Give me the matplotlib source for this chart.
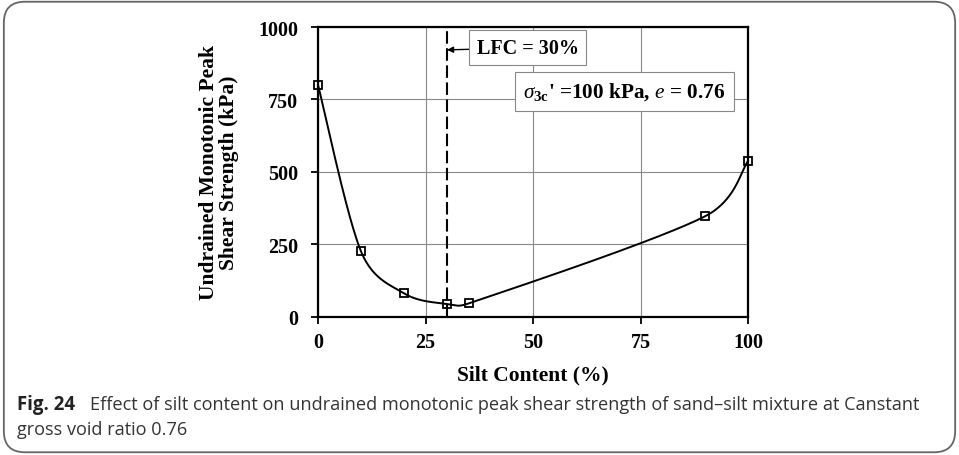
import numpy as np
from matplotlib import pyplot as plt
from matplotlib.patches import FancyBboxPatch

silt = [0, 10, 20, 30, 35, 90, 100]
strength = [800, 225, 80, 43, 45, 346, 537]
lfc = 30
x_ticks = [0, 25, 50, 75, 100]
y_ticks = [0, 250, 500, 750, 1000]


def smooth(ax, xs, ys, n=60):
    # Excel-like smoothed line: bezier segments, control arms limited
    # to half the segment length, computed in display space
    p = ax.transData.transform(np.column_stack([xs, ys]).astype(float))
    out = []
    for i in range(len(p) - 1):
        p0 = p[max(i - 1, 0)]
        p1 = p[i]
        p2 = p[i + 1]
        p3 = p[min(i + 2, len(p) - 1)]
        d12 = np.hypot(*(p2 - p1))
        d02 = np.hypot(*(p2 - p0))
        d13 = np.hypot(*(p3 - p1))
        f1 = min(1 / 6, d12 / (2 * d02)) if d02 > 0 else 0
        f2 = min(1 / 6, d12 / (2 * d13)) if d13 > 0 else 0
        c1 = p1 + (p2 - p0) * f1
        c2 = p2 - (p3 - p1) * f2
        t = np.linspace(0, 1, n)[:, None]
        seg = ((1 - t) ** 3 * p1 + 3 * (1 - t) ** 2 * t * c1
               + 3 * (1 - t) * t ** 2 * c2 + t ** 3 * p2)
        out.append(seg)
    pts = ax.transData.inverted().transform(np.vstack(out))
    return pts[:, 0], pts[:, 1]


plt.rcParams['mathtext.fontset'] = 'custom'
plt.rcParams['mathtext.rm'] = 'Liberation Serif:bold'
plt.rcParams['mathtext.it'] = 'Liberation Serif:italic'
plt.rcParams['mathtext.bf'] = 'Liberation Serif:bold'
fig = plt.figure(figsize=(9.59, 4.56), dpi=100)
serif = ['Liberation Serif', 'DejaVu Serif']

border = FancyBboxPatch((0.004, 0.006), 0.992, 0.988, transform=fig.transFigure,
                        boxstyle='round,pad=0,rounding_size=0.022', fc='none',
                        ec='#666666', lw=1.3, mutation_aspect=959 / 456, zorder=10)
fig.patches.append(border)

ax = fig.add_axes([318 / 959, 1 - 317.5 / 456, 430 / 959, 289.5 / 456])
ax.set_xlim(0, 100)
ax.set_ylim(0, 1000)
ax.set_xticks(x_ticks)
ax.set_yticks(y_ticks)
ax.grid(True, color='#888888', lw=0.8)
ax.set_axisbelow(True)
for s in ax.spines.values():
    s.set_linewidth(1.6)
    s.set_color('black')
ax.tick_params(direction='out', length=4.8, width=1.3)
ax.tick_params(axis='y', pad=9.5)
ax.tick_params(axis='x', pad=6)
for lab in ax.get_xticklabels() + ax.get_yticklabels():
    lab.set_fontfamily(serif)
    lab.set_fontweight('bold')
    lab.set_fontsize(14.4)

sx, sy = smooth(ax, silt, strength)
ax.plot(sx, sy, color='black', lw=1.4, clip_on=False, zorder=3)
ax.plot(silt, strength, ls='none', marker='s', ms=5.3, mfc='none', mec='black',
        mew=1.3, clip_on=False, zorder=4)
ax.axvline(lfc, color='black', lw=1.5, ls=(0, (6, 2.2)), zorder=3)

ax.annotate('LFC = 30%', xy=(lfc, 921), xytext=(48.8, 928), fontsize=14.5,
            family=serif, weight='bold', va='center', ha='center',
            bbox=dict(boxstyle='square,pad=0.38', fc='white', ec='#888888', lw=0.8),
            arrowprops=dict(arrowstyle='-|>', color='black', lw=1, mutation_scale=9,
                            shrinkA=0, shrinkB=0))
ax.text(71.3, 778, r"$\sigma_{\mathrm{3c}}$' =100 kPa, $e$ = 0.76", fontsize=15.3,
        family=serif, weight='bold', va='center', ha='center',
        bbox=dict(boxstyle='square,pad=0.4', fc='white', ec='#888888', lw=0.8))

ax.set_xlabel('Silt Content (%)', fontsize=15.5, family=serif, weight='bold', labelpad=9)
ax.set_ylabel('Undrained Monotonic Peak\nShear Strength (kPa)', fontsize=15.5,
              family=serif, weight='bold', labelpad=14, linespacing=1.0)

fig.text(17 / 959, 1 - 405 / 456, 'Fig. 24', fontsize=13.4, family='Open Sans',
         weight='bold', va='center', color='#222222')
fig.text(90 / 959, 1 - 405 / 456,
         'Effect of silt content on undrained monotonic peak shear strength of sand\u2013silt mixture at Canstant',
         fontsize=13.1, family='Open Sans', va='center', color='#333333')
fig.text(17 / 959, 1 - 430 / 456, 'gross void ratio 0.76', fontsize=13.1,
         family='Open Sans', va='center', color='#333333')

fig.savefig('out.png', dpi=100)
